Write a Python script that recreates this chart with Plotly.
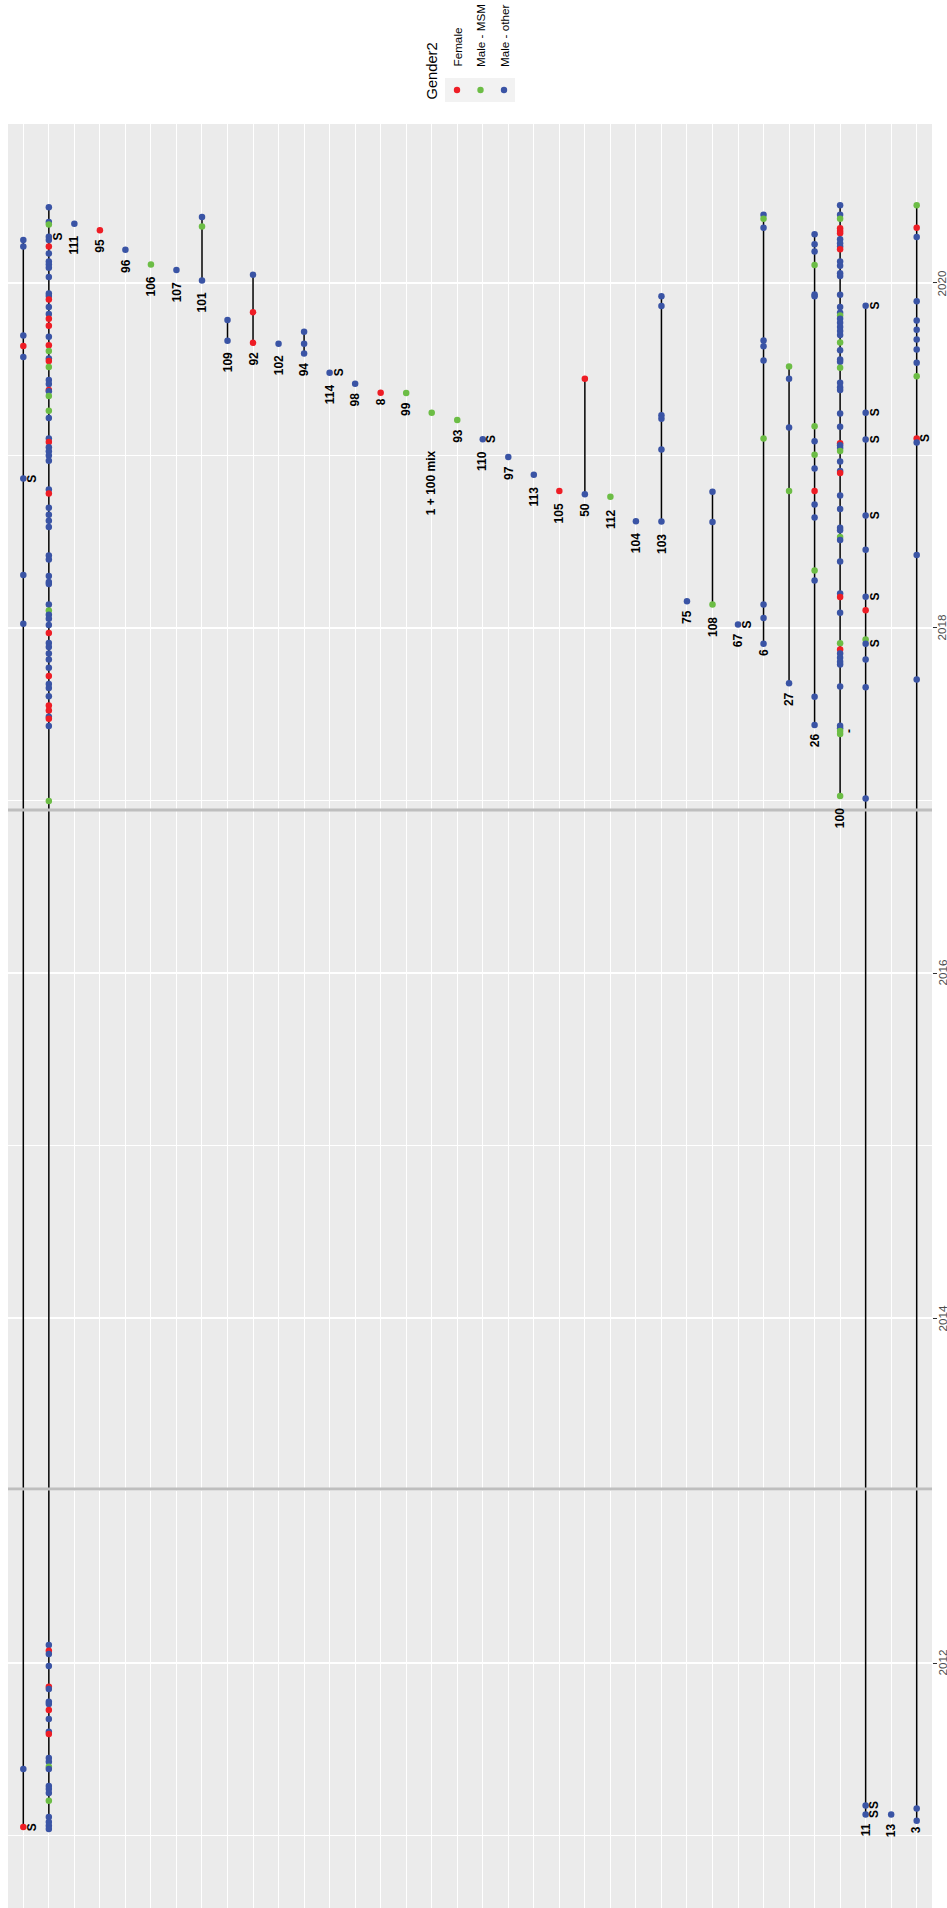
import plotly.graph_objects as go

# ---- data -----------------------------------------------------------------
# one entry per cluster row (left to right); years are decimal years
row_labels = [
    "", "", "111", "95", "96", "106", "107", "101", "109", "92", "102", "94",
    "114", "98", "8", "99", "1 + 100 mix", "93", "110", "97", "113", "105",
    "50", "112", "104", "103", "75", "108", "67", "6", "27", "26", "100",
    "11", "13", "3",
]

row_years = [
    [2020.249, 2020.212, 2019.696, 2019.635, 2019.571, 2018.867, 2018.307,
     2018.025, 2011.386, 2011.049],
    [2020.439, 2020.354, 2020.339, 2020.268, 2020.249, 2020.211, 2020.171,
     2020.124, 2020.107, 2020.088, 2020.035, 2019.939, 2019.925, 2019.904,
     2019.861, 2019.820, 2019.792, 2019.752, 2019.689, 2019.639, 2019.606,
     2019.563, 2019.548, 2019.513, 2019.438, 2019.414, 2019.380, 2019.372,
     2019.345, 2019.260, 2019.217, 2019.099, 2019.078, 2019.048, 2019.024,
     2019.000, 2018.969, 2018.803, 2018.780, 2018.697, 2018.657, 2018.621,
     2018.586, 2018.420, 2018.397, 2018.301, 2018.267, 2018.255, 2018.136,
     2018.101, 2018.077, 2018.053, 2018.017, 2017.971, 2017.913, 2017.890,
     2017.852, 2017.817, 2017.769, 2017.722, 2017.675, 2017.652, 2017.604,
     2017.550, 2017.521, 2017.486, 2017.474, 2017.432, 2016.997, 2012.104,
     2012.071, 2012.052, 2011.983, 2011.863, 2011.849, 2011.776, 2011.762,
     2011.728, 2011.675, 2011.602, 2011.588, 2011.449, 2011.428, 2011.399,
     2011.386, 2011.287, 2011.270, 2011.246, 2011.202, 2011.107, 2011.078,
     2011.057, 2011.038],
    [2020.344],
    [2020.306],
    [2020.192],
    [2020.107],
    [2020.076],
    [2020.382, 2020.328, 2020.015],
    [2019.786, 2019.665],
    [2020.048, 2019.831, 2019.653],
    [2019.648],
    [2019.717, 2019.648, 2019.591],
    [2019.480],
    [2019.416],
    [2019.364],
    [2019.362],
    [2019.248],
    [2019.206],
    [2019.094],
    [2018.991],
    [2018.889],
    [2018.794],
    [2019.445, 2018.775],
    [2018.761],
    [2018.619],
    [2019.923, 2019.866, 2019.234, 2019.213, 2019.035, 2018.617],
    [2018.155],
    [2018.790, 2018.614, 2018.136],
    [2018.020],
    [2020.396, 2020.372, 2020.320, 2019.667, 2019.634, 2019.551, 2019.099,
     2018.136, 2018.058, 2017.909],
    [2019.516, 2019.445, 2019.163, 2018.794, 2017.679],
    [2020.282, 2020.225, 2020.183, 2020.105, 2019.934, 2019.923, 2019.170,
     2019.083, 2019.005, 2018.924, 2018.794, 2018.716, 2018.640, 2018.333,
     2018.276, 2017.602, 2017.438],
    [2020.450, 2020.396, 2020.372, 2020.318, 2020.301, 2020.289, 2020.254,
     2020.230, 2020.212, 2020.195, 2020.124, 2020.100, 2020.057, 2020.041,
     2019.932, 2019.861, 2019.828, 2019.812, 2019.793, 2019.769, 2019.745,
     2019.722, 2019.698, 2019.655, 2019.610, 2019.556, 2019.544, 2019.509,
     2019.421, 2019.395, 2019.379, 2019.243, 2019.166, 2019.071, 2019.059,
     2019.043, 2019.026, 2018.965, 2018.910, 2018.898, 2018.768, 2018.690,
     2018.581, 2018.567, 2018.527, 2018.510, 2018.385, 2018.200, 2018.179,
     2018.089, 2017.911, 2017.876, 2017.852, 2017.828, 2017.805, 2017.788,
     2017.661, 2017.434, 2017.419, 2017.403, 2017.386, 2017.026],
    [2019.868, 2019.248, 2019.092, 2018.652, 2018.453, 2018.181, 2018.103,
     2017.933, 2017.909, 2017.817, 2017.656, 2017.012, 2011.174, 2011.122],
    [2011.122],
    [2020.450, 2020.320, 2020.266, 2019.894, 2019.783, 2019.729, 2019.672,
     2019.615, 2019.537, 2019.459, 2019.099, 2019.076, 2018.423, 2017.701,
     2011.157, 2011.086],
]

# F = Female, M = Male - MSM, O = Male - other (one letter per point)
row_genders = [
    "OOOFOOOOOF",
    "OOMOOFOOOOOOOFOOFFOFMOFMOOFOMMOOFOOOOOFOOOOOOOOOOMOOOFOOOOOFOOOFFOFOM"
    "OFOOFOOOFOOFOOMOOOOMOOOO",
    "O", "F", "O", "M", "O",
    "OMO",
    "OO",
    "OFF",
    "O",
    "OOO",
    "O", "O", "F", "M", "M", "M", "O", "O", "O", "F",
    "FO",
    "M", "O",
    "OOOOOO",
    "O",
    "OOM",
    "O",
    "OMOOOOMOOO",
    "MOOMO",
    "OOOMOOMOMOFOOMOOO",
    "OOMFFFOOOFOOOOOOOMOOOOOMOOOMOOOOOFOOMOOFOOOOMOOOFOMFOOOOOOOMMMMO",
    "OOOOOOFMOOOOOO",
    "O",
    "MFOOOOOOOMFOOOOO",
]

# short tags drawn beside individual points (row number is 1-based)
tag_rows = [1, 1, 2, 13, 19, 29, 33, 34, 34, 34, 34, 34, 34, 34, 34, 36]
tag_years = [2018.867, 2011.049, 2020.268, 2019.480, 2019.094, 2018.020,
             2017.403, 2019.868, 2019.248, 2019.092, 2018.652, 2018.181,
             2017.909, 2011.174, 2011.122, 2019.099]
tag_texts = ["S", "S", "S", "S", "S", "S", "-", "S", "S", "S", "S", "S",
             "S", "S", "S", "S"]

# grey reference lines across all rows
break_years = [2013.009, 2016.945]

year_ticks = [2012, 2014, 2016, 2018, 2020]
minor_year_ticks = [2011, 2013, 2015, 2017, 2019]

gender_order = ["F", "M", "O"]
gender_names = {"F": "Female", "M": "Male - MSM", "O": "Male - other"}
gender_colors = {"F": "#EE1D25", "M": "#6CBD45", "O": "#3A54A5"}

# ---- layout geometry (pixels) ----------------------------------------------
W, H = 947, 1908
ML, MR, MT, MB = 8, 15, 124, 0
PW, PH = W - ML - MR, H - MT - MB
FONT = "Liberation Sans, Arial, sans-serif"
LABEL_SIZE = 12

# approximate bold glyph widths (em units) used to offset the labels
_BOLD_W = {" ": 0.45, "+": 0.584, "m": 0.889, "i": 0.278, "x": 0.556,
           "S": 0.667, "-": 0.333}


def text_width(s, size):
    return sum(_BOLD_W.get(c, 0.556) for c in s) * size


def paper_x(px):
    return (px - ML) / PW


def paper_y(py):
    return (H - MB - py) / PH


fig = go.Figure()

# span of each cluster
lx, ly = [], []
for i, yrs in enumerate(row_years):
    if len(yrs) > 1:
        lx += [i + 1, i + 1, None]
        ly += [min(yrs), max(yrs), None]
fig.add_trace(go.Scatter(x=lx, y=ly, mode="lines",
                         line=dict(color="black", width=1.5),
                         hoverinfo="skip", showlegend=False))

# cases, coloured by gender
px_, py_, pc_ = [], [], []
for i, (yrs, gs) in enumerate(zip(row_years, row_genders)):
    for yv, g in zip(yrs, gs):
        px_.append(i + 1)
        py_.append(yv)
        pc_.append(gender_colors[g])
fig.add_trace(go.Scatter(x=px_, y=py_, mode="markers",
                         marker=dict(color=pc_, size=6.5, line=dict(width=0)),
                         showlegend=False))

annotations = []

# cluster names below the earliest case of each row
for i, lab in enumerate(row_labels):
    if not lab:
        continue
    wdt = text_width(lab, LABEL_SIZE)
    annotations.append(dict(
        x=i + 1, y=min(row_years[i]), xref="x", yref="y",
        text=f"<b>{lab}</b>", showarrow=False, textangle=-90,
        xanchor="center", yanchor="top", yshift=-0.5 * wdt,
        font=dict(family=FONT, size=LABEL_SIZE, color="black"),
    ))

# tags next to points
for r, yv, t in zip(tag_rows, tag_years, tag_texts):
    annotations.append(dict(
        x=r, y=yv, xref="x", yref="y", text=f"<b>{t}</b>",
        showarrow=False, textangle=-90, xanchor="center", yanchor="middle",
        xshift=9, font=dict(family=FONT, size=LABEL_SIZE, color="black"),
    ))

# year labels beside the right-hand ticks (rotated to run upwards)
for yv in year_ticks:
    annotations.append(dict(
        x=paper_x(941.5), y=yv, xref="paper", yref="y", text=str(yv),
        showarrow=False, textangle=-90, xanchor="center", yanchor="middle",
        font=dict(family=FONT, size=11.7, color="#4D4D4D"),
    ))

shapes = []
for b in break_years:
    shapes.append(dict(type="line", xref="paper", x0=0, x1=1, yref="y",
                       y0=b, y1=b, line=dict(color="#BEBEBE", width=3),
                       layer="above"))

# legend drawn by hand so its text can run vertically
shapes.append(dict(type="rect", xref="paper", yref="paper",
                   x0=paper_x(445), x1=paper_x(515),
                   y0=paper_y(102), y1=paper_y(78),
                   fillcolor="#F2F2F2", line=dict(width=0), layer="above"))
key_x = [457, 480.5, 504]
for kx, g in zip(key_x, gender_order):
    shapes.append(dict(type="circle", xref="paper", yref="paper",
                       x0=paper_x(kx - 3.2), x1=paper_x(kx + 3.2),
                       y0=paper_y(93.2), y1=paper_y(86.8),
                       fillcolor=gender_colors[g], line=dict(width=0),
                       layer="above"))
    annotations.append(dict(
        x=paper_x(kx), y=paper_y(69), xref="paper", yref="paper",
        text=gender_names[g], showarrow=False, textangle=-90,
        xanchor="center", yanchor="bottom",
        font=dict(family=FONT, size=11.7, color="black"),
    ))
annotations.append(dict(
    x=paper_x(431), y=paper_y(71.5), xref="paper", yref="paper",
    text="Gender2", showarrow=False, textangle=-90,
    xanchor="center", yanchor="middle",
    font=dict(family=FONT, size=14.7, color="black"),
))

fig.update_layout(
    width=W, height=H,
    margin=dict(l=ML, r=MR, t=MT, b=MB, pad=0, autoexpand=False),
    paper_bgcolor="white", plot_bgcolor="#EBEBEB",
    showlegend=False,
    annotations=annotations, shapes=shapes,
    xaxis=dict(range=[0.4, len(row_labels) + 0.6],
               tickmode="array", tickvals=list(range(1, len(row_labels) + 1)),
               showticklabels=False, ticks="", showgrid=True,
               gridcolor="white", gridwidth=1.3, zeroline=False,
               showline=False, fixedrange=True, automargin=False),
    yaxis=dict(range=[2010.5797, 2020.9217], side="right",
               tickmode="array", tickvals=year_ticks,
               showticklabels=False,
               ticks="outside", ticklen=4, tickwidth=1, tickcolor="#333333",
               automargin=False,
               showgrid=True, gridcolor="white", gridwidth=1.5,
               zeroline=False, showline=False,
               minor=dict(tickmode="array", tickvals=minor_year_ticks,
                          showgrid=True, gridcolor="white", gridwidth=0.8,
                          ticks="")),
)

fig.write_html("out.html")
